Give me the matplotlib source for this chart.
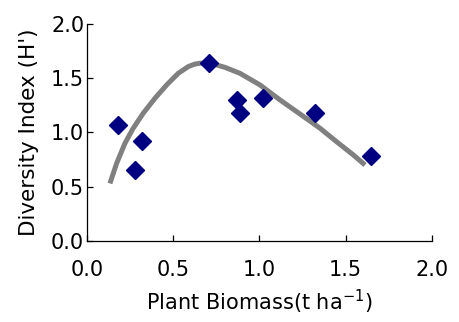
import matplotlib
matplotlib.use("Agg")
import matplotlib.pyplot as plt

# observed points
biomass = [0.18, 0.28, 0.32, 0.71, 0.87, 0.89, 1.02, 1.32, 1.645]
diversity = [1.07, 0.65, 0.92, 1.64, 1.30, 1.18, 1.315, 1.18, 0.785]

# fitted trend curve
curve_x = [0.133, 0.172, 0.220, 0.268, 0.326, 0.394, 0.462, 0.529, 0.587,
           0.625, 0.655, 0.695, 0.732, 0.800, 0.887, 1.003, 1.119, 1.235,
           1.351, 1.447, 1.544, 1.612]
curve_y = [0.53, 0.716, 0.90, 1.039, 1.177, 1.315, 1.438, 1.545, 1.607,
           1.630, 1.638, 1.639, 1.631, 1.60, 1.545, 1.438, 1.30, 1.17,
           1.039, 0.915, 0.793, 0.70]

ticks = [0.0, 0.5, 1.0, 1.5, 2.0]

fig = plt.figure(figsize=(4.59, 3.22), dpi=100)
ax = fig.add_axes([0.1895, 0.2516, 0.7516, 0.674])

ax.plot(curve_x, curve_y, color="#808080", linewidth=3.6,
        solid_capstyle="butt", solid_joinstyle="round", zorder=2)
ax.plot(biomass, diversity, linestyle="none", marker="D", markersize=9.5,
        color="#000080", zorder=3)

ax.set_xlim(0, 2)
ax.set_ylim(0, 2)
ax.set_xticks(ticks)
ax.set_yticks(ticks)
ax.set_xticklabels([f"{t:.1f}" for t in ticks])
ax.set_yticklabels([f"{t:.1f}" for t in ticks])

for side in ["top", "right"]:
    ax.spines[side].set_visible(False)
for side in ["left", "bottom"]:
    ax.spines[side].set_linewidth(0.9)

ax.tick_params(axis="x", direction="in", length=4, width=0.9,
               labelsize=15, pad=14)
ax.tick_params(axis="y", direction="in", length=4, width=0.9,
               labelsize=15, pad=2)

ax.set_xlabel("Plant Biomass(t ha$^{-1}$)", fontsize=15, labelpad=5)
ax.set_ylabel("Diversity Index (H')", fontsize=15.5, labelpad=9)

fig.savefig("out.png", dpi=100)
